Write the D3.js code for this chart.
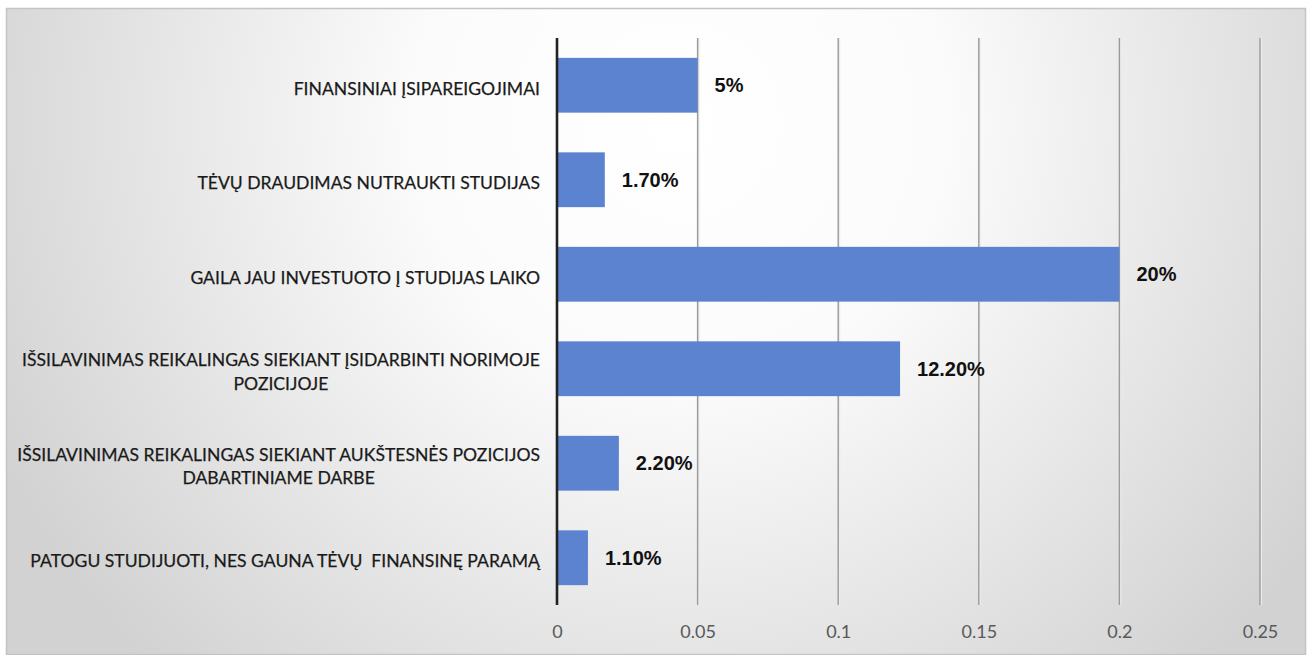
<!DOCTYPE html>
<html>
<head>
<meta charset="utf-8">
<script src="https://cdn.jsdelivr.net/npm/d3@7"></script>
<style>
  html, body { margin: 0; padding: 0; background: #ffffff; }
  svg { display: block; }
</style>
</head>
<body>
<svg id="chart" width="1309" height="655"></svg>
<script>
// ---- data ----
const categories = [
  ["FINANSINIAI ĮSIPAREIGOJIMAI"],
  ["TĖVŲ DRAUDIMAS NUTRAUKTI STUDIJAS"],
  ["GAILA JAU INVESTUOTO Į STUDIJAS LAIKO"],
  ["IŠSILAVINIMAS REIKALINGAS SIEKIANT ĮSIDARBINTI NORIMOJE", "POZICIJOJE"],
  ["IŠSILAVINIMAS REIKALINGAS SIEKIANT AUKŠTESNĖS POZICIJOS", "DABARTINIAME DARBE"],
  ["PATOGU STUDIJUOTI, NES GAUNA TĖVŲ  FINANSINĘ PARAMĄ"]
];
const values = [0.05, 0.017, 0.20, 0.122, 0.022, 0.011];
const valueLabels = ["5%", "1.70%", "20%", "12.20%", "2.20%", "1.10%"];
const xTicks = [0, 0.05, 0.1, 0.15, 0.2, 0.25];
const xTickLabels = ["0", "0.05", "0.1", "0.15", "0.2", "0.25"];

// ---- layout ----
const svg = d3.select("#chart");
const W = 1309, H = 655;
const plot = { left: 557, right: 1260, top: 38, bottom: 605 };

// background gradient
const defs = svg.append("defs");
const grad = defs.append("radialGradient")
  .attr("id", "bg").attr("gradientUnits", "userSpaceOnUse")
  .attr("cx", 680).attr("cy", 120).attr("r", 760);
grad.append("stop").attr("offset", "0%").attr("stop-color", "#ffffff");
grad.append("stop").attr("offset", "35%").attr("stop-color", "#fbfbfb");
grad.append("stop").attr("offset", "100%").attr("stop-color", "#d2d2d2");

svg.append("rect").attr("x", 0).attr("y", 0).attr("width", W).attr("height", H).attr("fill", "#ffffff");
svg.append("rect")
  .attr("x", 6.5).attr("y", 8.5).attr("width", 1299).attr("height", 646)
  .attr("fill", "url(#bg)")
  .attr("stroke", "#c4c4c4").attr("stroke-width", 1.5);

const x = d3.scaleLinear().domain([0, 0.25]).range([plot.left, plot.right]);
const y = d3.scaleBand().domain(d3.range(categories.length))
  .range([plot.top, plot.bottom]).paddingInner(0.42).paddingOuter(0.21);

// gridlines
const grid = svg.append("g");
grid.selectAll("line.g").data(xTicks.slice(1)).join("line")
  .attr("x1", d => x(d) + 1).attr("x2", d => x(d) + 1)
  .attr("y1", plot.top).attr("y2", plot.bottom)
  .attr("stroke", "#ececec").attr("stroke-width", 2);
grid.selectAll("line.m").data(xTicks.slice(1)).join("line")
  .attr("x1", d => x(d)).attr("x2", d => x(d))
  .attr("y1", plot.top).attr("y2", plot.bottom)
  .attr("stroke", "#9a9a9a").attr("stroke-width", 1.4);

// bars
svg.append("g").selectAll("rect").data(values).join("rect")
  .attr("x", x(0))
  .attr("y", (d, i) => y(i))
  .attr("width", d => x(d) - x(0))
  .attr("height", y.bandwidth())
  .attr("fill", "#5b83cf");

// axis line
svg.append("line")
  .attr("x1", x(0)).attr("x2", x(0))
  .attr("y1", plot.top).attr("y2", plot.bottom)
  .attr("stroke", "#222222").attr("stroke-width", 2.6);

// value labels
svg.append("g").selectAll("text").data(values).join("text")
  .attr("x", d => x(d) + 17)
  .attr("y", (d, i) => y(i) + y.bandwidth() / 2)
  .attr("dy", "0.36em")
  .attr("font-family", "Liberation Sans, Arial, sans-serif")
  .attr("font-weight", "bold")
  .attr("font-size", 20)
  .attr("fill", "#111111")
  .text((d, i) => valueLabels[i]);

// x tick labels
const xAxis = d3.axisBottom(x).tickValues(xTicks).tickSize(0)
  .tickFormat((d, i) => xTickLabels[i]);
const gx = svg.append("g").attr("transform", `translate(0,${plot.bottom})`).call(xAxis);
gx.select(".domain").remove();
gx.selectAll("text")
  .attr("y", 27).attr("dy", "0.36em")
  .attr("font-family", "Lato, sans-serif")
  .attr("font-size", 18)
  .attr("fill", "#595959");

// category labels (right-aligned block, lines centred within block)
const labelFont = "Lato, sans-serif";
const catSize = 18;
const catG = svg.append("g");
function natural(t) {
  const p = catG.append("text").attr("font-family", labelFont).attr("font-size", catSize)
    .attr("style", "white-space: pre").text(t);
  const w = p.node().getComputedTextLength();
  p.remove();
  return w;
}
// horizontal compression so the longest line matches the reference width
const k = 518 / natural(categories[3][0]);
const lineH = 23.5;
const rightEdge = 540;

categories.forEach((lines, i) => {
  const cy = y(i) + y.bandwidth() / 2;
  const widths = lines.map(t => natural(t) * k);
  const blockW = d3.max(widths);
  const cx = rightEdge - blockW / 2;
  lines.forEach((t, j) => {
    catG.append("text")
      .attr("x", cx)
      .attr("y", cy + (j - (lines.length - 1) / 2) * lineH + 3)
      .attr("dy", "0.36em")
      .attr("text-anchor", "middle")
      .attr("font-family", labelFont)
      .attr("font-size", catSize)
      .attr("textLength", widths[j])
      .attr("lengthAdjust", "spacingAndGlyphs")
      .attr("fill", "#1a1a1a")
      .attr("stroke", "#1a1a1a")
      .attr("stroke-width", 0.25)
      .attr("style", "white-space: pre")
      .text(t);
  });
});
</script>
</body>
</html>
